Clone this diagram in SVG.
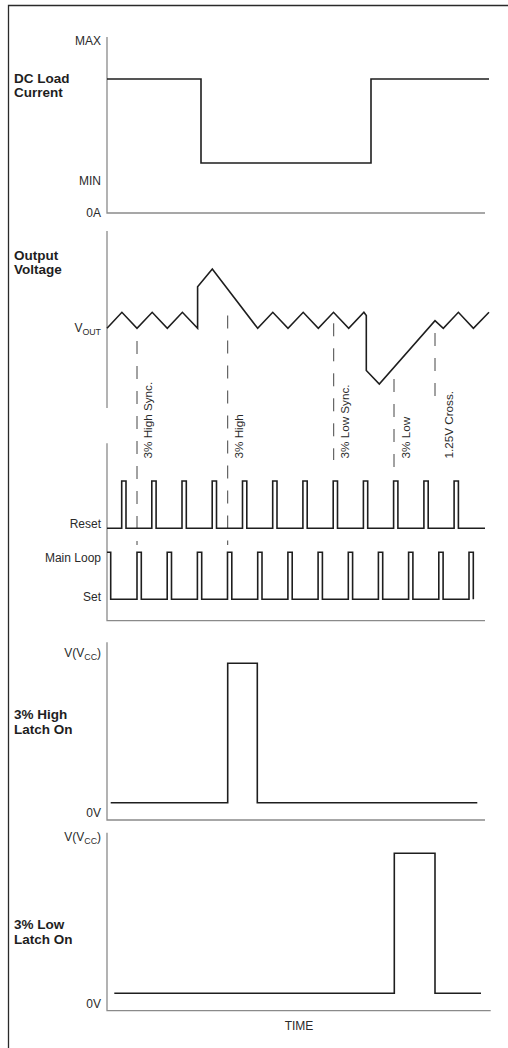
<svg xmlns="http://www.w3.org/2000/svg" width="508" height="1048" viewBox="0 0 508 1048">
<style>
.frame{fill:none;stroke:#2a2a2a;stroke-width:1.3}
.axis{fill:none;stroke:#8a8a8a;stroke-width:1.3}
.wave{fill:none;stroke:#1e1e1e;stroke-width:1.6;stroke-linejoin:miter}
.dash{fill:none;stroke:#444;stroke-width:1;stroke-dasharray:13 12}
.lbl{font-family:"Liberation Sans",Arial,sans-serif;font-size:12px;fill:#2a2a2a}
.rot{font-size:11.7px}
.r{text-anchor:end}
.b{font-family:"Liberation Sans",Arial,sans-serif;font-size:13.5px;font-weight:bold;fill:#1e1e1e}
.sub{font-size:8.8px}
</style>
<rect width="508" height="1048" fill="#fff"/>
<path class="frame" d="M8.5 1048 V5.5 H508"/>

<g id="dc-load-current">
<path class="axis" d="M107 37 V213 H485"/>
<path class="wave" d="M107 79 H201 V163 H371 V79 H489"/>
<text class="lbl r" x="101" y="45">MAX</text>
<text class="lbl r" x="101" y="185">MIN</text>
<text class="lbl r" x="101" y="217">0A</text>
<text class="b" x="14" y="83">DC Load</text>
<text class="b" x="14" y="97">Current</text>
</g>

<g id="output-voltage">
<path class="axis" d="M107 231 V408"/>
<path class="wave" d="M107 328.3 L121.9 312.3 L137 328.3 L152.2 312.3 L167.3 328.3 L182.4 312.3 L197.6 328.3 L197.6 286.7 L212.3 269 L257.7 328.3 L272.8 312.3 L288 328.3 L303.2 312.3 L318.3 328.3 L333.5 312.3 L348.7 328.3 L363.9 312.3 L366.3 315.5 L366.3 370.5 L379.3 384 L435 320.6 L443.3 328.3 L458.4 312.3 L473.4 328.3 L489 312.3"/>
<text class="lbl r" x="101" y="331.7">V<tspan class="sub" dy="3.3">OUT</tspan></text>
<text class="b" x="14" y="260">Output</text>
<text class="b" x="14" y="274">Voltage</text>
</g>

<g id="connectors">
<line class="dash" x1="137" y1="341" x2="137" y2="545"/>
<line class="dash" x1="227.7" y1="315.5" x2="227.7" y2="545"/>
<line class="dash" x1="333.7" y1="323.3" x2="333.7" y2="460"/>
<line class="dash" x1="394" y1="379" x2="394" y2="468"/>
<line class="dash" x1="435" y1="333" x2="435" y2="398"/>
</g>

<g id="event-labels">
<text class="lbl rot" transform="translate(151.8,458.5) rotate(-90)">3% High Sync.</text>
<text class="lbl rot" transform="translate(242.6,458.5) rotate(-90)">3% High</text>
<text class="lbl rot" transform="translate(349,458.5) rotate(-90)">3% Low Sync.</text>
<text class="lbl rot" transform="translate(409.5,458.5) rotate(-90)">3% Low</text>
<text class="lbl rot" transform="translate(453,458.5) rotate(-90)">1.25V Cross.</text>
</g>

<g id="pulses">
<path class="axis" d="M107 443.3 V620.7 H485"/>
<path class="wave" d="M107 528.3 H121.7 V481 H126 V528.3 H151.8 V481 H156.1 V528.3 H182 V481 H186.3 V528.3 H212.2 V481 H216.5 V528.3 H242.5 V481 H246.8 V528.3 H272.7 V481 H277 V528.3 H302.9 V481 H307.2 V528.3 H333.2 V481 H337.5 V528.3 H363.4 V481 H367.7 V528.3 H393.6 V481 H397.9 V528.3 H423.9 V481 H428.2 V528.3 H454.1 V481 H458.4 V528.3 H485"/>
<path class="wave" d="M107 552.3 H110.7 V599.3 H137 V552.3 H141.3 V599.3 H167.2 V552.3 H171.5 V599.3 H197.4 V552.3 H201.7 V599.3 H227.5 V552.3 H231.8 V599.3 H257.7 V552.3 H262 V599.3 H287.9 V552.3 H292.2 V599.3 H318.1 V552.3 H322.4 V599.3 H348.3 V552.3 H352.6 V599.3 H378.4 V552.3 H382.7 V599.3 H408.6 V552.3 H412.9 V599.3 H438.8 V552.3 H443.1 V599.3 H469 V552.3 H473.3 V599.3"/>
<text class="lbl r" x="101" y="528">Reset</text>
<text class="lbl r" x="101" y="561.5">Main Loop</text>
<text class="lbl r" x="101" y="600.5">Set</text>
</g>

<g id="high-latch">
<path class="axis" d="M107 642.3 V820 H485"/>
<path class="wave" d="M110.7 802.7 H227.7 V663.3 H257.3 V802.7 H477.3"/>
<text class="lbl r" x="101" y="656.7">V(V<tspan class="sub" dy="3">CC</tspan><tspan dy="-3">)</tspan></text>
<text class="lbl r" x="101" y="816.7">0V</text>
<text class="b" x="14" y="719.3">3% High</text>
<text class="b" x="14" y="734.3">Latch On</text>
</g>

<g id="low-latch">
<path class="axis" d="M107 832.7 V1010.7 H490.7"/>
<path class="wave" d="M114.3 993.3 H394.3 V853.3 H435 V993.3 H481"/>
<text class="lbl r" x="101" y="840.7">V(V<tspan class="sub" dy="3">CC</tspan><tspan dy="-3">)</tspan></text>
<text class="lbl r" x="101" y="1008.3">0V</text>
<text class="b" x="14" y="929.3">3% Low</text>
<text class="b" x="14" y="944.3">Latch On</text>
<text class="lbl" x="299" y="1030" text-anchor="middle">TIME</text>
</g>
</svg>
